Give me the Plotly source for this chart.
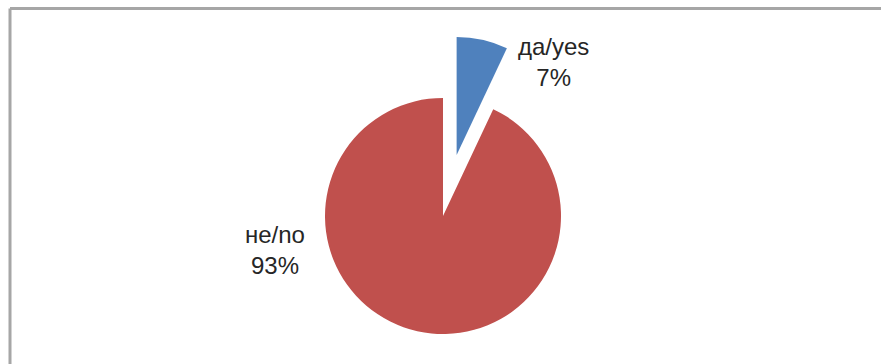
import math
import plotly.graph_objects as go

# Survey answers
labels = ["да/yes", "не/no"]
values = [7, 93]
colors = ["#4F81BD", "#C0504D"]

# Exploded "yes" slice: offset along its bisector, as a fraction of the radius
pull_first = 0.53

W, H = 881, 364
cx, cy, r = 443.0, 216.0, 118.0   # pie centre and radius in pixels

fig = go.Figure()


def domain_for(px, py, rad):
    return dict(
        x=[(px - rad) / W, (px + rad) / W],
        y=[(H - py - rad) / H, (H - py + rad) / H],
    )


total = sum(values)
mid_angle = math.radians(values[0] / total * 360 / 2)
bx = cx + pull_first * r * math.sin(mid_angle)
by = cy - pull_first * r * math.cos(mid_angle)

# Body of the pie (the "no" slice) and the pulled-out "yes" slice
for i, (px, py) in enumerate([(cx, cy), (bx, by)]):
    slice_colors = ["rgba(0,0,0,0)"] * len(values)
    slice_colors[1 - i] = colors[1 - i]
    fig.add_trace(go.Pie(
        labels=labels,
        values=values,
        sort=False,
        direction="clockwise",
        rotation=0,
        marker=dict(colors=slice_colors, line=dict(width=0)),
        textinfo="none",
        hoverinfo="label+percent",
        showlegend=False,
        domain=domain_for(px, py, r),
    ))

# Category labels with their shares
label_pos = [(553, 62), (275, 250)]
for lab, val, (lx, ly) in zip(labels, values, label_pos):
    pct = round(val / total * 100)
    fig.add_annotation(
        text=f"{lab}<br>{pct}%",
        x=lx / W, y=(H - ly) / H,
        xref="paper", yref="paper",
        xanchor="center", yanchor="middle",
        showarrow=False, align="center",
        font=dict(family="Liberation Sans, Arial, sans-serif", size=24, color="#262626"),
    )

# Chart-area frame (top and left edges)
frame = dict(color="#a6a6a6", width=3)
fig.add_shape(type="line", xref="paper", yref="paper",
              x0=10 / W, y0=(H - 8.5) / H, x1=1.01, y1=(H - 8.5) / H, line=frame)
fig.add_shape(type="line", xref="paper", yref="paper",
              x0=10 / W, y0=(H - 8.5) / H, x1=10 / W, y1=-0.01, line=frame)

fig.update_layout(
    width=W, height=H,
    margin=dict(l=0, r=0, t=0, b=0),
    paper_bgcolor="white",
    plot_bgcolor="white",
)

fig.write_html("out.html")
